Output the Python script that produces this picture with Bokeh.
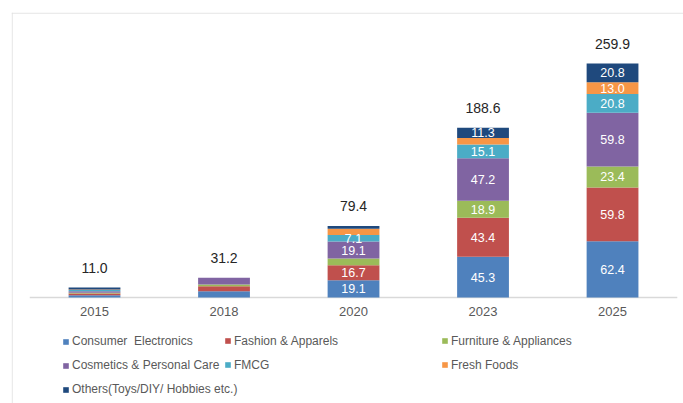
from bokeh.plotting import figure
from bokeh.models import ColumnDataSource, Range1d, Legend, LegendItem, Span
from bokeh.core.properties import value
from bokeh.embed import file_html
from bokeh.resources import INLINE

years = ["2015", "2018", "2020", "2023", "2025"]
series_names = ["Consumer  Electronics", "Fashion & Apparels", "Furniture & Appliances",
                "Cosmetics & Personal Care", "FMCG", "Fresh Foods",
                "Others(Toys/DIY/ Hobbies etc.)"]
consumer_electronics = [2.5, 7.0, 19.1, 45.3, 62.4]
fashion_apparels = [2.0, 5.5, 16.7, 43.4, 59.8]
furniture_appliances = [0.8, 2.0, 7.4, 18.9, 23.4]
cosmetics_personal_care = [1.7, 7.5, 19.1, 47.2, 59.8]
fmcg = [1.2, 0.0, 7.1, 15.1, 20.8]
fresh_foods = [0.8, 0.0, 7.0, 7.4, 13.0]
others = [2.0, 0.0, 3.0, 11.3, 20.8]
totals = [11.0, 31.2, 79.4, 188.6, 259.9]
colors = ["#4F81BD", "#C0504D", "#9BBB59", "#8064A2", "#4BACC6", "#F79646", "#1F497D"]

# segments whose value label is shown
labelled_years = ["2020", "2023", "2025"]
hidden_labels = {(2, "2020"), (5, "2020"), (6, "2020"), (5, "2023")}

series = [consumer_electronics, fashion_apparels, furniture_appliances,
          cosmetics_personal_care, fmcg, fresh_foods, others]
keys = ["s%d" % i for i in range(len(series))]
xpos = list(range(len(years)))

data = {"x": xpos, "years": years}
for k, s in zip(keys, series):
    data[k] = s
source = ColumnDataSource(data)

FONT = "Liberation Sans"
X0, X1 = -0.641, 4.548
Y0, Y1 = -117.8, 316.7

p = figure(x_range=Range1d(X0, X1), y_range=Range1d(Y0, Y1),
           width=683, height=403, output_backend="svg", toolbar_location=None,
           min_border_left=11, min_border_right=0, min_border_top=12, min_border_bottom=0)
p.outline_line_color = None
p.xgrid.visible = False
p.ygrid.visible = False
p.xaxis.visible = False
p.yaxis.visible = False

# chart border (top and left)
p.add_layout(Span(location=Y1 - 0.7, dimension="width", line_color="#E0E0E0", line_width=1))
p.add_layout(Span(location=X0 + 0.005, dimension="height", line_color="#E0E0E0", line_width=1))

# category axis line
p.segment(x0=[xpos[0] - 0.5], y0=[0], x1=[xpos[-1] + 0.5], y1=[0],
          line_color="#D9D9D9", line_width=1.5)

renderers = p.vbar_stack(keys, x="x", width=0.40, color=colors, source=source,
                         line_color=None)

# category labels
p.text(x=xpos, y=[0] * len(years), text=years, text_align="center",
       text_baseline="middle", y_offset=14, text_font=value(FONT),
       text_font_size="13px", text_color="#595959")

# segment labels
lx, ly, lt = [], [], []
for j, y in enumerate(years):
    base = 0.0
    for i, s in enumerate(series):
        v = s[j]
        if y in labelled_years and (i, y) not in hidden_labels and v > 0:
            lx.append(xpos[j])
            ly.append(base + v / 2)
            lt.append("%.1f" % v)
        base += v
p.text(x=lx, y=ly, text=lt, text_align="center", text_baseline="middle",
       text_font=value(FONT), text_font_size="12.5px", text_color="white")

# total labels
tops = [sum(s[j] for s in series) for j in range(len(years))]
p.text(x=xpos, y=tops, text=["%.1f" % t for t in totals], text_align="center",
       text_baseline="middle", y_offset=-20, text_font=value(FONT),
       text_font_size="14px", text_color="#262626")

# legends: three columns
cols = [[0, 3, 6], [1, 4], [2, 5]]
xs = [51, 213, 430]
for col, x in zip(cols, xs):
    items = [LegendItem(label=series_names[i], renderers=[renderers[i]]) for i in col]
    n = len(col)
    h = 14 * n + 10.5 * (n - 1)
    leg = Legend(items=items, location=(x, 70 - h), orientation="vertical",
                 glyph_width=7, glyph_height=7, label_height=14, spacing=10,
                 label_standoff=3, padding=0, margin=0, border_line_color=None,
                 background_fill_alpha=0, label_text_font=FONT,
                 label_text_font_size="12px", label_text_color="#595959")
    p.add_layout(leg, "center")

open("out.html", "w").write(file_html(p, INLINE))
